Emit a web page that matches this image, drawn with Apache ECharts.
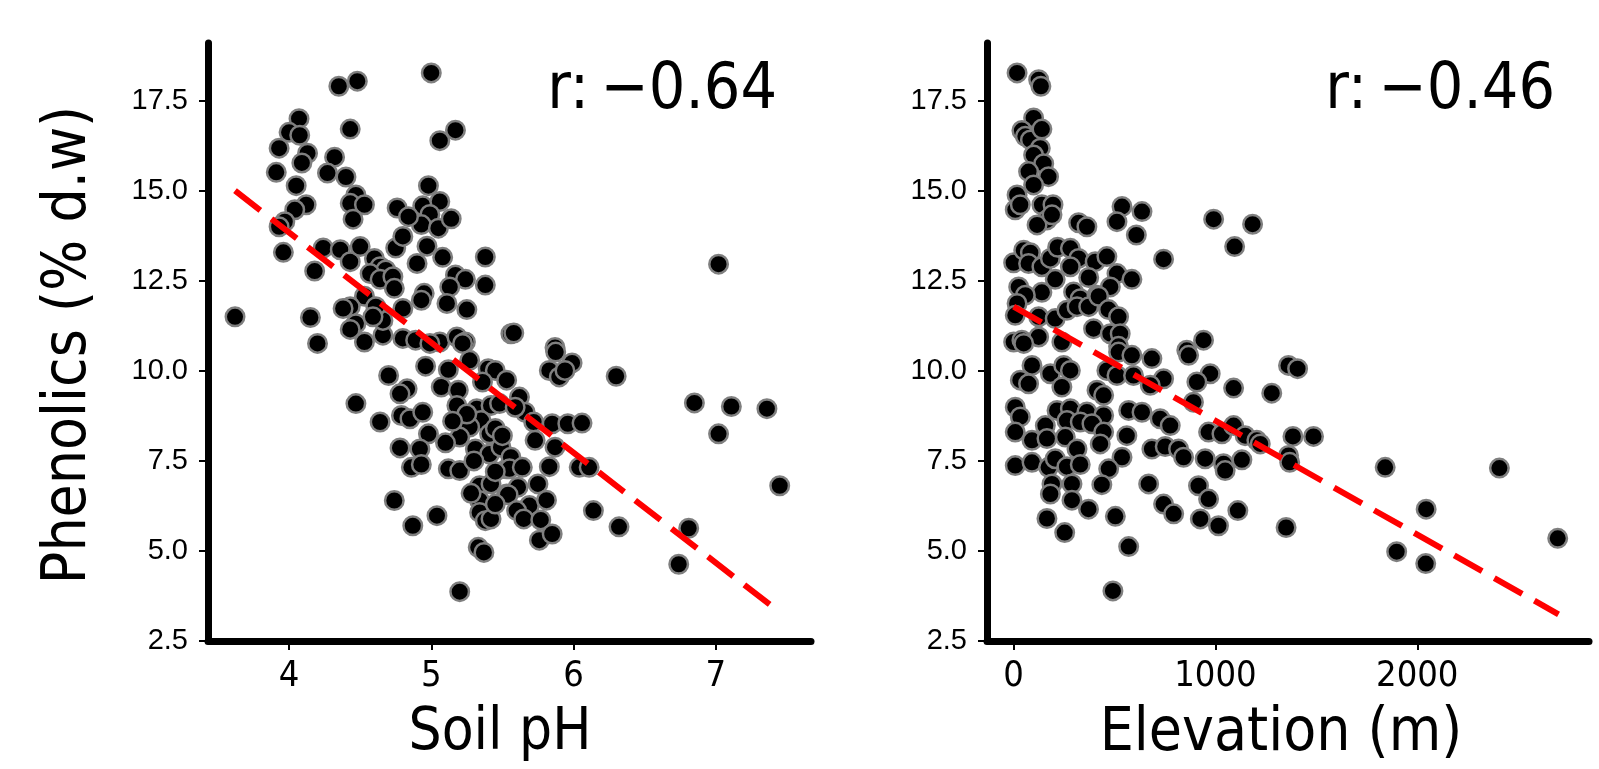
<!DOCTYPE html>
<html>
<head>
<meta charset="utf-8">
<script src="https://cdn.jsdelivr.net/npm/echarts@6/dist/echarts.min.js"></script>
<style>
html,body{margin:0;padding:0;background:#fff;}
#chart{width:1599px;height:769px;}
</style>
</head>
<body>
<div id="chart"></div>
<script>
// ---------- DATA ----------
const soilPH = [5.00,4.35,4.48,4.07,4.00,4.075,4.43,5.06,5.17,3.93,4.13,4.09,3.91,4.32,4.27,4.40,4.05,4.98,4.47,4.43,4.53,4.45,4.12,4.04,3.97,3.93,3.96,4.18,3.62,4.15,4.20,4.24,4.36,4.43,4.50,4.60,4.64,4.68,4.57,4.64,4.73,4.74,4.53,4.43,4.47,4.43,4.53,4.66,4.66,4.61,4.80,4.75,4.76,4.80,4.90,4.97,4.94,5.06,4.99,4.93,5.05,5.14,4.84,5.08,5.17,5.24,5.13,5.11,5.25,5.38,5.38,4.95,4.93,4.80,4.89,5.06,5.18,5.24,5.56,4.38,4.59,
7.02,5.58,5.87,
4.70,4.47,4.64,4.83,4.78,4.79,4.85,4.94,4.98,4.92,4.78,4.86,4.93,4.74,4.87,5.04,5.33,5.37,5.20,4.96,5.07,5.12,5.19,5.18,5.27,5.40,5.45,5.53,5.36,5.32,5.42,5.35,5.27,5.41,5.20,5.31,5.41,5.49,5.12,5.20,5.34,5.42,5.53,5.53,5.34,5.34,5.38,5.42,4.99,5.22,
5.875,5.99,5.83,5.90,5.94,6.30,6.85,7.11,7.36,7.02,7.45,5.62,5.66,5.72,5.85,5.96,6.06,5.73,5.87,5.83,6.04,6.11,5.56,5.55,5.64,5.75,5.61,5.54,5.69,5.81,5.60,5.65,5.77,5.76,5.85,6.14,6.32,6.81,6.74,5.48,5.59,
5.25,5.45,5.15,5.30,5.45,5.50,5.28,5.45,5.10];
const phenolicsPH = [18.27,17.90,18.04,17.00,16.62,16.54,16.71,16.39,16.68,16.18,16.04,15.77,15.51,15.93,15.49,15.38,15.14,15.14,14.88,14.65,14.61,14.21,14.61,14.47,14.14,14.00,13.29,12.77,11.50,11.48,10.76,13.41,13.36,13.03,13.45,13.12,12.89,12.80,12.70,12.54,12.61,12.29,12.07,11.78,11.31,11.15,10.80,10.99,11.40,11.78,11.73,13.41,14.52,13.73,12.98,13.46,14.58,14.70,14.34,14.06,13.96,14.22,14.28,13.15,12.66,12.54,12.33,11.87,11.70,13.16,12.38,12.15,11.96,10.90,10.85,10.80,10.94,10.80,11.03,11.73,11.50,
12.96,11.05,10.65,
9.87,9.09,8.58,9.50,9.36,8.76,8.67,8.85,8.25,7.83,7.86,7.32,7.40,6.40,5.70,5.98,5.10,4.96,3.87,10.13,9.55,10.03,9.46,9.04,10.29,10.06,10.01,9.74,9.69,8.95,9.04,8.62,8.44,8.25,8.16,7.83,7.69,7.88,7.28,7.23,6.81,6.86,7.28,6.58,6.40,6.07,5.84,5.89,10.76,10.76,
10.52,10.22,10.01,9.83,10.01,9.85,9.11,9.01,8.95,8.25,6.81,9.27,8.85,8.58,8.53,8.53,8.55,8.07,7.88,7.34,7.32,7.32,7.60,7.28,7.32,6.86,6.77,6.56,6.26,6.41,6.12,5.89,5.86,5.30,5.47,6.12,5.67,5.63,4.63,9.09,8.99,
8.80,8.40,8.60,7.50,7.20,8.20,6.60,6.30,8.00];

const elevation = [17,124,135,99,41,58,83,140,132,99,149,173,74,99,17,8,33,140,195,165,116,190,322,363,537,512,636,608,991,1184,1095,743,0,50,83,74,140,182,218,281,322,281,404,462,512,586,372,206,25,140,58,297,330,413,479,17,8,124,206,264,314,372,421,470,520,396,479,528,0,41,124,239,520,941,858,
50,520,586,685,867,91,182,248,281,462,512,594,743,974,908,33,74,239,1090,677,413,446,8,215,281,363,446,570,636,726,891,33,157,264,330,388,446,561,776,966,1032,1090,1147,1205,8,91,165,256,314,429,537,685,751,817,842,949,1040,1131,1048,8,91,173,206,264,330,471,437,289,190,182,289,371,669,916,966,743,793,925,1015,1111,165,253,504,570,492,
1362,1407,1279,1222,1384,1486,1362,1368,1841,2407,2044,1350,1898,2042,2696];
const phenolicsElev = [18.27,18.08,17.90,17.02,16.67,16.51,16.41,16.71,16.18,15.99,15.75,15.39,15.53,15.16,14.88,14.47,14.61,14.61,14.61,14.19,14.05,14.33,14.11,14.00,14.56,14.14,14.42,13.77,14.21,14.07,13.45,13.10,13.00,13.35,13.28,12.98,12.89,13.12,13.43,13.40,13.12,12.89,13.03,13.17,12.70,12.54,12.59,12.54,12.33,12.18,12.10,12.19,12.00,12.10,12.33,11.87,11.54,11.50,11.45,11.68,11.78,11.78,12.07,11.70,11.50,11.17,11.03,11.03,10.80,10.85,10.94,10.80,10.68,10.85,10.57,
10.76,10.52,10.43,10.34,10.43,10.15,9.92,10.15,10.01,10.01,9.87,9.87,9.78,9.92,9.69,9.74,9.64,9.55,9.52,9.60,9.46,9.32,8.99,8.90,8.95,8.86,8.76,8.90,8.85,8.67,9.13,8.72,8.48,8.62,8.58,8.53,8.30,8.20,8.48,8.30,8.25,8.48,8.20,8.07,8.30,8.07,8.12,8.16,7.83,7.97,7.60,7.83,7.90,7.83,7.60,7.56,7.42,7.53,7.23,7.37,7.46,7.32,7.56,7.34,7.40,7.28,6.84,6.86,6.86,6.58,6.41,6.16,6.86,6.81,6.44,6.30,6.03,5.89,5.70,6.12,5.90,5.51,5.96,5.12,3.89,
10.15,10.06,9.38,7.97,8.18,8.18,7.65,7.46,7.32,7.30,6.16,5.65,4.98,4.65,5.35];

// regression line end points
const fitPH = [[3.62, 15.0], [7.44, 3.33]];
const fitElev = [[0, 11.78], [2700, 3.24]];

const rPH = 'r:\u2009\u22120.64';
const rElev = 'r:\u2009\u22120.46';
const xTicksPH = [4, 5, 6, 7];
const xTicksElev = [0, 1000, 2000];
const yTicks = [2.5, 5.0, 7.5, 10.0, 12.5, 15.0, 17.5];
const xNamePH = 'Soil pH';
const xNameElev = 'Elevation (m)';
const yName = 'Phenolics (% d.w)';

// ---------- CHART ----------
const TITLE_FONT = "'DejaVu Sans Condensed','Liberation Sans Narrow','DejaVu Sans',sans-serif";
const XTICK_FONT = "'Liberation Sans Narrow','DejaVu Sans Condensed',sans-serif";
const YTICK_FONT = "'Liberation Sans',Arial,sans-serif";

function zip(a, b) { return a.map((v, i) => [v, b[i]]); }

function xAxisCfg(idx, min, max, ticks) {
  return {
    gridIndex: idx, type: 'value', min: min, max: max,
    splitLine: { show: false },
    axisLine: { show: true, onZero: false, lineStyle: { color: '#000', width: 7 } },
    axisTick: { show: true, customValues: ticks, length: 9, lineStyle: { color: '#000', width: 2 } },
    axisLabel: { show: true, customValues: ticks, color: '#000', fontSize: 36, fontFamily: XTICK_FONT, margin: 18,
      formatter: v => String(v) }
  };
}
function yAxisCfg(idx) {
  return {
    gridIndex: idx, type: 'value', min: 2.5, max: 19.1,
    splitLine: { show: false },
    axisLine: { show: true, onZero: false, lineStyle: { color: '#000', width: 7 } },
    axisTick: { show: true, customValues: yTicks, length: 9, lineStyle: { color: '#000', width: 2 } },
    axisLabel: { show: true, customValues: yTicks, color: '#000', fontSize: 29, fontFamily: YTICK_FONT, margin: 20,
      formatter: v => Number(v).toFixed(1) }
  };
}
const scatterStyle = { color: '#000', borderColor: '#7f7f7f', borderWidth: 2.5, opacity: 1 };
const lineStyle = { color: '#ff0000', width: 6, type: [32, 14], opacity: 1 };

const chart = echarts.init(document.getElementById('chart'), null, { renderer: 'canvas' });
chart.setOption({
  animation: false,
  backgroundColor: '#fff',
  grid: [
    { left: 208, top: 43, width: 603, height: 598 },
    { left: 987, top: 43, width: 602, height: 598 }
  ],
  xAxis: [xAxisCfg(0, 3.43, 7.67, xTicksPH), xAxisCfg(1, -132, 2851, xTicksElev)],
  yAxis: [yAxisCfg(0), yAxisCfg(1)],
  series: [
    { type: 'scatter', xAxisIndex: 0, yAxisIndex: 0, data: zip(soilPH, phenolicsPH), symbolSize: 18.5, itemStyle: scatterStyle, emphasis: { disabled: true }, z: 2 },
    { type: 'scatter', xAxisIndex: 1, yAxisIndex: 1, data: zip(elevation, phenolicsElev), symbolSize: 18.5, itemStyle: scatterStyle, emphasis: { disabled: true }, z: 2 },
    { type: 'line', xAxisIndex: 0, yAxisIndex: 0, data: fitPH, symbol: 'none', lineStyle: lineStyle, z: 5 },
    { type: 'line', xAxisIndex: 1, yAxisIndex: 1, data: fitElev, symbol: 'none', lineStyle: lineStyle, z: 5 }
  ],
  graphic: [
    { type: 'text', x: 777, y: 91, style: { text: rPH, font: '64px ' + TITLE_FONT, fill: '#000', textAlign: 'right', textVerticalAlign: 'middle' } },
    { type: 'text', x: 1555, y: 91, style: { text: rElev, font: '64px ' + TITLE_FONT, fill: '#000', textAlign: 'right', textVerticalAlign: 'middle' } },
    { type: 'text', x: 500, y: 734, style: { text: xNamePH, font: '58px ' + TITLE_FONT, fill: '#000', textAlign: 'center', textVerticalAlign: 'middle' } },
    { type: 'text', x: 1281, y: 734, style: { text: xNameElev, font: '60px ' + TITLE_FONT, fill: '#000', textAlign: 'center', textVerticalAlign: 'middle' } },
    { type: 'text', x: 69, y: 345, rotation: Math.PI / 2, style: { text: yName, font: '60px ' + TITLE_FONT, fill: '#000', textAlign: 'center', textVerticalAlign: 'middle' } }
  ]
});
</script>
</body>
</html>
